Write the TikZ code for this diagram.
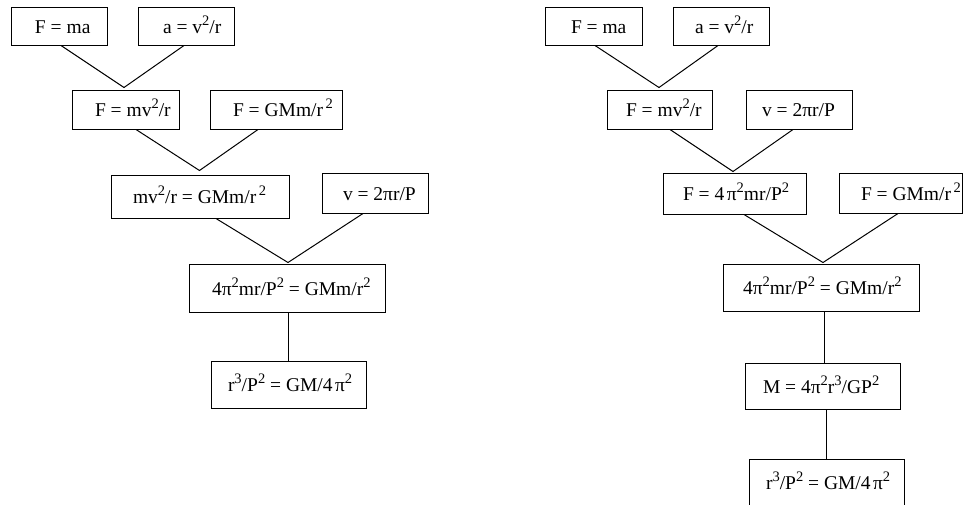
\documentclass[tikz,border=0pt]{standalone}
\usepackage{fontspec}
\setmainfont{Liberation Serif}
\usetikzlibrary{calc}
\newcommand\spx[1]{\raisebox{8pt}{\fontsize{14.5}{15}\selectfont #1}}
\newcommand\gp{\hspace{2.5pt}}
\newcommand\bxt[3]{\makebox[#1pt][l]{\hspace*{#2pt}#3}}
\tikzset{
  eqbox/.style={draw, line width=1pt, inner sep=0pt, text height=14pt, text depth=0pt,
    font=\fontsize{19.5}{23}\selectfont},
  link/.style={line width=1pt}
}
\begin{document}
\begin{tikzpicture}[x=1pt, y=-1pt]
\fill[white] (0,0) rectangle (964,504);
\useasboundingbox (0,0) rectangle (964,504);
\clip (0,0) rectangle (964,504);
% ---------- left tree ----------
\node[eqbox, minimum height=38pt] (L1) at (59,26) {\bxt{96}{24}{F = ma}};
\node[eqbox, minimum height=38pt] (L2) at (186,26) {\bxt{96}{25}{a = v\spx{2}/r}};
\node[eqbox, minimum height=39pt] (L3) at (125.5,109.5) {\bxt{107}{23}{F = mv\spx{2}/r}};
\node[eqbox, minimum height=39pt] (L4) at (276,109.5) {\bxt{132}{23}{F = GMm/r\gp\spx{2}}};
\node[eqbox, minimum height=43pt] (L5) at (200,196.5) {\bxt{178}{22}{mv\spx{2}/r = GMm/r\gp\spx{2}}};
\node[eqbox, minimum height=40pt] (L6) at (375,193) {\bxt{106}{21}{v = 2πr/P}};
\node[eqbox, minimum height=48pt] (L7) at (287,288) {\bxt{196}{23}{4π\spx{2}mr/P\spx{2} = GMm/r\spx{2}}};
\node[eqbox, minimum height=47pt] (L8) at (288.5,384.5) {\bxt{155}{17}{r\spx{3}/P\spx{2} = GM/4\gp π\spx{2}}};
\coordinate (m1) at ($(L3.north)+(-1.5,-2)$);
\coordinate (m2) at ($(L5.north)+(-0.5,-4)$);
\coordinate (m3) at ($(L7.north)+(1,-1)$);
\draw[link] ($(L1.south)+(2,0)$) -- (m1) -- ($(L2.south)+(-2,0)$);
\draw[link] ($(L3.south)+(10.5,0)$) -- (m2) -- ($(L4.south)+(-18,0)$);
\draw[link] ($(L5.south)+(16,0)$) -- (m3) -- ($(L6.south)+(-12,0)$);
\draw[link] (L7.south -| m3) -- (L8.north -| m3);
% ---------- right tree ----------
\node[eqbox, minimum height=38pt] (R1) at (593.5,26) {\bxt{97}{26}{F = ma}};
\node[eqbox, minimum height=38pt] (R2) at (721,26) {\bxt{96}{22}{a = v\spx{2}/r}};
\node[eqbox, minimum height=39pt] (R3) at (659.5,109.5) {\bxt{105}{19}{F = mv\spx{2}/r}};
\node[eqbox, minimum height=39pt] (R4) at (799,109.5) {\bxt{106}{16}{v = 2πr/P}};
\node[eqbox, minimum height=41pt] (R5) at (734.5,193.5) {\bxt{143}{20}{F = 4\gp π\spx{2}mr/P\spx{2}}};
\node[eqbox, minimum height=40pt] (R6) at (900.5,193) {\bxt{123}{22}{F = GMm/r\gp\spx{2}}};
\node[eqbox, minimum height=47pt] (R7) at (821,287.5) {\bxt{196}{20}{4π\spx{2}mr/P\spx{2} = GMm/r\spx{2}}};
\node[eqbox, minimum height=46pt] (R8) at (822.5,386) {\bxt{155}{18}{M = 4π\spx{2}r\spx{3}/GP\spx{2}}};
\node[eqbox, minimum height=47pt] (R9) at (826.5,482.5) {\bxt{155}{17}{r\spx{3}/P\spx{2} = GM/4\gp π\spx{2}}};
\coordinate (n1) at ($(R3.north)+(-0.5,-2)$);
\coordinate (n2) at ($(R5.north)+(-1.5,-1)$);
\coordinate (n3) at ($(R7.north)+(2,-1)$);
\draw[link] ($(R1.south)+(1.5,0)$) -- (n1) -- ($(R2.south)+(-3,0)$);
\draw[link] ($(R3.south)+(10.5,0)$) -- (n2) -- ($(R4.south)+(-6,0)$);
\draw[link] ($(R5.south)+(9.5,0)$) -- (n3) -- ($(R6.south)+(-2.5,0)$);
\draw[link] ($(R7.south)+(3,0)$) -- ($(R8.north)+(1.5,0)$);
\draw[link] ($(R8.south)+(3.5,0)$) -- ($(R9.north)+(-0.5,0)$);
\end{tikzpicture}
\end{document}
